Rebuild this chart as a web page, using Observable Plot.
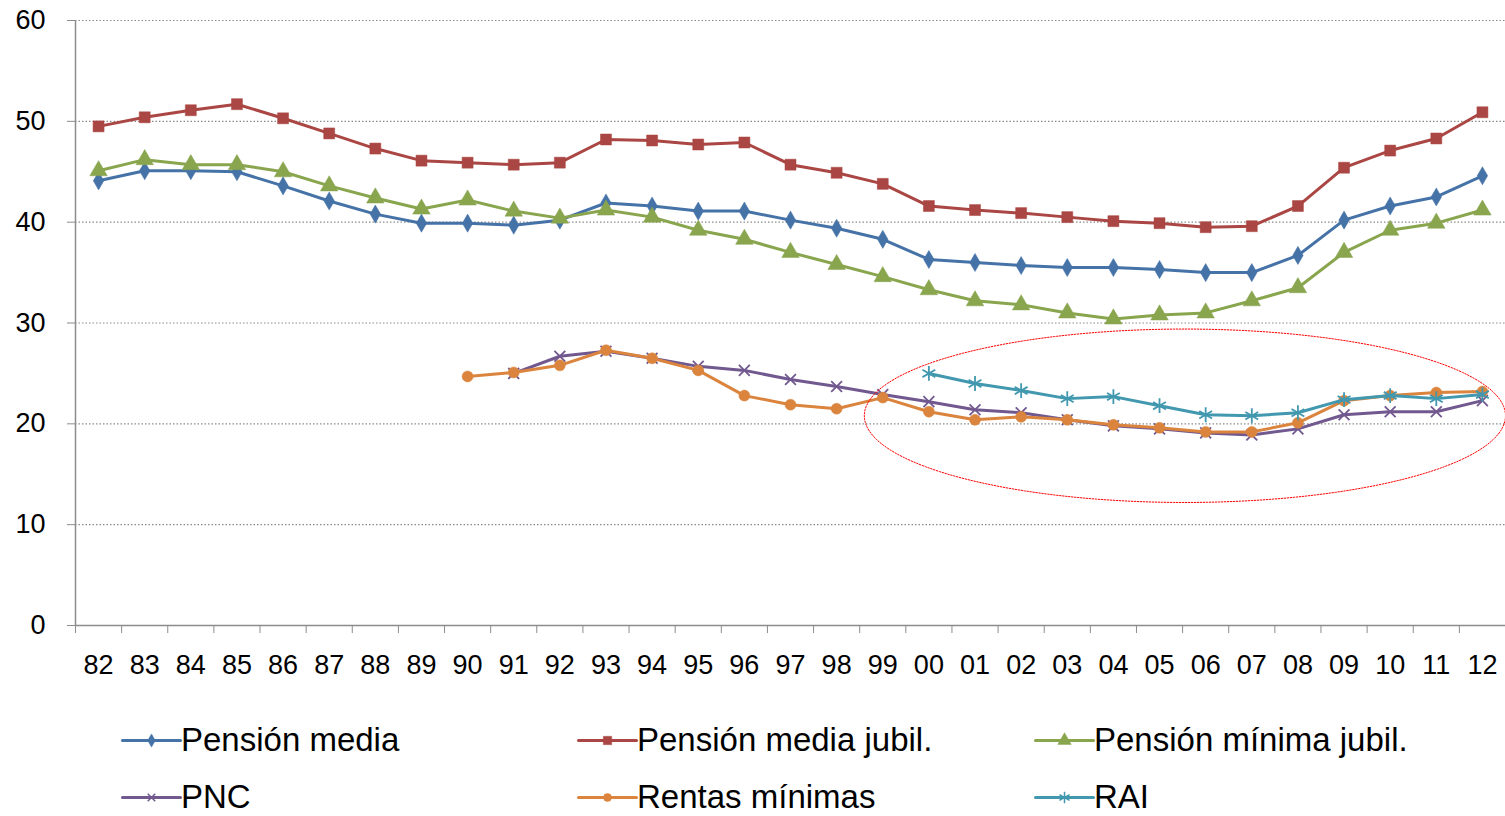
<!DOCTYPE html>
<html>
<head>
<meta charset="utf-8">
<script src="https://cdn.jsdelivr.net/npm/d3@7"></script>
<script src="https://cdn.jsdelivr.net/npm/@observablehq/plot@0.6"></script>
<style>
  html, body { margin: 0; padding: 0; background: #fff; }
  body { width: 1505px; height: 816px; position: relative; overflow: hidden; font-family: "Liberation Sans", Arial, sans-serif; }
  #chart { position: absolute; left: 0; top: 0; }
  .leg { position: absolute; display: flex; align-items: center; font-size: 33px; color: #000; white-space: nowrap; }
  .leg svg { display: block; margin-right: 1px; }
</style>
</head>
<body>
<div id="chart"></div>
<div id="legend"></div>
<script>
// ---- data ----
const years = ["82","83","84","85","86","87","88","89","90","91","92","93","94","95","96","97","98","99","00","01","02","03","04","05","06","07","08","09","10","11","12"];
const pensionMedia       = [44.1,45.1,45.1,45.0,43.6,42.1,40.8,39.9,39.9,39.7,40.2,41.9,41.6,41.1,41.1,40.2,39.4,38.3,36.3,36.0,35.7,35.5,35.5,35.3,35.0,35.0,36.7,40.2,41.6,42.5,44.6];
const pensionMediaJubil  = [49.5,50.4,51.1,51.7,50.3,48.8,47.3,46.1,45.9,45.7,45.9,48.2,48.1,47.7,47.9,45.7,44.9,43.8,41.6,41.2,40.9,40.5,40.1,39.9,39.5,39.6,41.6,45.4,47.1,48.3,50.9];
const pensionMinimaJubil = [45.1,46.2,45.7,45.7,45.0,43.6,42.4,41.3,42.2,41.1,40.4,41.2,40.5,39.2,38.3,37.0,35.8,34.6,33.3,32.2,31.8,31.0,30.4,30.8,31.0,32.2,33.5,37.0,39.2,39.9,41.2];
const pnc                = [null,null,null,null,null,null,null,null,null,25.0,26.7,27.2,26.5,25.7,25.3,24.4,23.7,22.9,22.2,21.4,21.1,20.4,19.8,19.5,19.1,18.9,19.5,20.9,21.2,21.2,22.3];
const rentasMinimas      = [null,null,null,null,null,null,null,null,24.7,25.1,25.8,27.3,26.5,25.3,22.8,21.9,21.5,22.6,21.2,20.4,20.7,20.4,19.9,19.6,19.2,19.2,20.1,22.3,22.8,23.1,23.2];
const rai                = [null,null,null,null,null,null,null,null,null,null,null,null,null,null,null,null,null,null,25.0,24.0,23.3,22.5,22.7,21.8,20.9,20.8,21.1,22.4,22.8,22.5,22.9];
const yTicks = [0,10,20,30,40,50,60];

const seriesNames  = ["Pensión media","Pensión media jubil.","Pensión mínima jubil.","PNC","Rentas mínimas","RAI"];
const seriesValues = [pensionMedia, pensionMediaJubil, pensionMinimaJubil, pnc, rentasMinimas, rai];
const seriesColors = ["#4572A7","#AA4643","#89A54E","#71588F","#DB843D","#4198AF"];
const seriesSymbols = ["diamond","square","triangle","times","circle","asterisk"];
const seriesFilled  = [true,true,true,false,true,false];
const seriesR       = [5.5,6.2,6.5,5,5.5,7];

// annotation ellipse (data units: x = category index, y = value)
const ellipse = {cx: 23.55, cy: 20.8, rx: 6.95, ry: 8.6};

// ---- build table ----
const rows = [];
seriesNames.forEach((name, s) => {
  seriesValues[s].forEach((v, i) => rows.push({series: name, s, i, v}));
});
const ellipsePts = d3.range(0, 361, 2).map(a => ({
  x: ellipse.cx + ellipse.rx * Math.cos(a * Math.PI / 180),
  y: ellipse.cy + ellipse.ry * Math.sin(a * Math.PI / 180)
}));

const idx = d3.range(years.length);
const marks = [
  Plot.ruleY(yTicks.filter(t => t > 0), {stroke: "#8c8c8c", strokeWidth: 1.2, strokeDasharray: "1.5,2"}),
  Plot.axisY({ticks: yTicks, tickSize: 8, tickPadding: 22, fontSize: 27, stroke: "#8c8c8c", color: "#000"}),
  Plot.axisX({ticks: d3.range(-0.5, years.length, 1), tickSize: 8, tickFormat: () => "", stroke: "#8c8c8c"}),
  Plot.axisX({ticks: idx, tickSize: 0, tickPadding: 29, tickFormat: i => years[i], fontSize: 27, color: "#000"}),
  Plot.ruleX([-0.5], {y1: 0, y2: 60, stroke: "#8c8c8c", strokeWidth: 1.5}),
  Plot.ruleY([0], {stroke: "#8c8c8c", strokeWidth: 1.5}),
];
seriesNames.forEach((name, s) => {
  const data = rows.filter(d => d.s === s && d.v != null);
  marks.push(Plot.line(data, {x: "i", y: "v", stroke: seriesColors[s], strokeWidth: 3}));
  marks.push(Plot.dot(data, {
    x: "i", y: "v", symbol: () => seriesSymbols[s], r: seriesR[s],
    fill: seriesFilled[s] ? seriesColors[s] : "none",
    stroke: seriesColors[s], strokeWidth: seriesFilled[s] ? 0.5 : 1.8
  }));
});
marks.push(Plot.line(ellipsePts, {x: "x", y: "y", stroke: "#ff0000", strokeWidth: 1, strokeDasharray: "1.5,1.5", clip: false}));

const chart = Plot.plot({
  width: 1505,
  height: 700,
  marginLeft: 75,
  marginRight: 0,
  marginTop: 20,
  marginBottom: 75,
  style: {fontFamily: "'Liberation Sans', Arial, sans-serif", background: "#fff", overflow: "visible"},
  x: {domain: [-0.5, years.length - 0.5], axis: null},
  y: {domain: [0, 60], axis: null},
  marks
});
document.getElementById("chart").appendChild(chart);

// ---- legend ----
const legendPos = [[122,740],[578,740],[1035,740],[122,797],[578,797],[1035,797]];
const legend = document.getElementById("legend");
seriesNames.forEach((name, s) => {
  const div = document.createElement("div");
  div.className = "leg";
  div.style.left = legendPos[s][0] + "px";
  div.style.top = (legendPos[s][1] - 20) + "px";
  div.style.height = "40px";
  const sw = Plot.plot({
    width: 58, height: 20, margin: 0,
    x: {domain: [0, 1], axis: null}, y: {domain: [0, 1], axis: null},
    style: {background: "transparent", overflow: "visible"},
    marks: [
      Plot.line([{x:0,y:0.5},{x:1,y:0.5}], {x: "x", y: "y", stroke: seriesColors[s], strokeWidth: 3}),
      Plot.dot([{x:0.5,y:0.5}], {x: "x", y: "y", symbol: () => seriesSymbols[s], r: seriesR[s] - 1.5,
        fill: seriesFilled[s] ? seriesColors[s] : "none", stroke: seriesColors[s], strokeWidth: seriesFilled[s] ? 0.5 : 1.5})
    ]
  });
  div.appendChild(sw);
  const span = document.createElement("span");
  span.textContent = name;
  div.appendChild(span);
  legend.appendChild(div);
});
</script>
</body>
</html>
